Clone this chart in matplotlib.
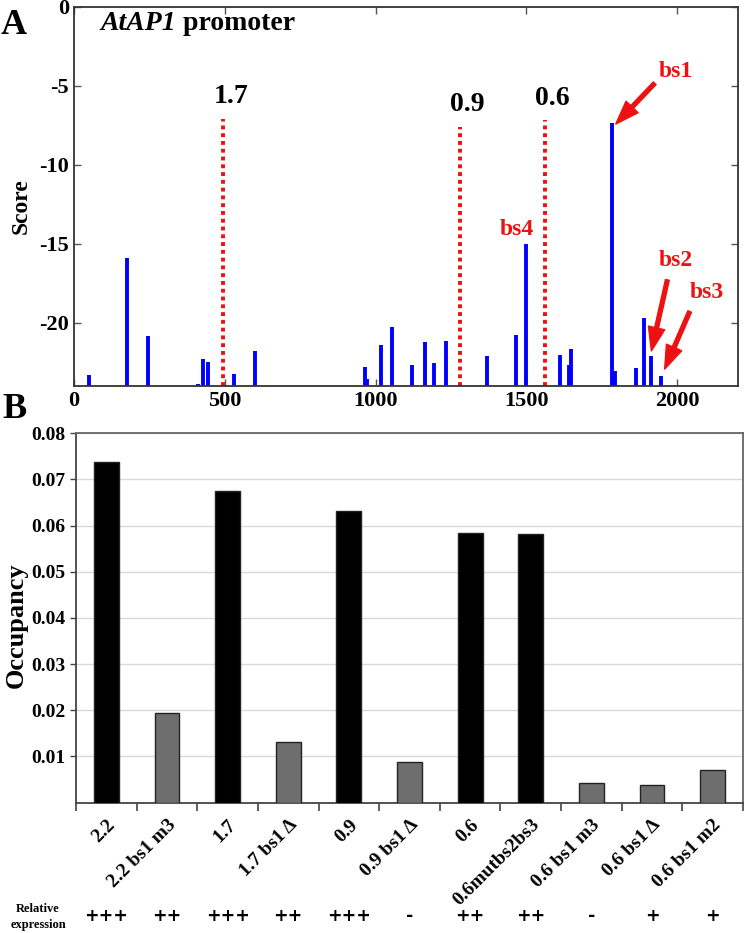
import matplotlib
matplotlib.use("Agg")
import matplotlib.pyplot as plt
import matplotlib.transforms as mtransforms
from matplotlib.ticker import FixedLocator, NullFormatter

plt.rcParams['font.family'] = ['Liberation Serif', 'DejaVu Serif']
plt.rcParams['font.weight'] = 'bold'
plt.rcParams['axes.unicode_minus'] = False

# ---------------- Data: panel A ----------------
site_positions = [52, 176, 247, 412, 430, 446, 531, 600, 965, 972, 1017, 1056,
                  1121, 1163, 1194, 1235, 1370, 1464, 1497, 1611, 1640, 1648,
                  1782, 1795, 1862, 1888, 1912, 1945]
site_scores = [-23.35, -15.9, -20.84, -23.9, -22.3, -22.5, -23.25, -21.8, -22.8,
               -23.6, -21.4, -20.3, -22.7, -21.26, -22.57, -21.18, -22.15,
               -20.76, -15.04, -22.07, -22.7, -21.7, -7.38, -23.06, -22.9,
               -19.7, -22.15, -23.4]
cut_positions = [495, 1280, 1560]
cut_tops = [-7.1, -7.6, -7.2]
cut_labels = ['1.7', '0.9', '0.6']
score_ticks = [0, -5, -10, -15, -20]
pos_ticks = [0, 500, 1000, 1500, 2000]

bs_names = ['bs1', 'bs2', 'bs3']
bs_heads = [(1796, -7.43), (1914, -21.8), (1958, -22.95)]
bs_tails = [(1925, -4.85), (1967, -17.3), (2041, -19.3)]
bs_text = [(1995, -4.1), (1995, -16.1), (2096, -18.1)]

# ---------------- Data: panel B ----------------
constructs = ['2.2', '2.2 bs1 m3', '1.7', '1.7 bs1 \u0394', '0.9', '0.9 bs1 \u0394',
              '0.6', '0.6mutbs2bs3', '0.6 bs1 m3', '0.6 bs1 \u0394', '0.6 bs1 m2']
occupancy = [0.0737, 0.0195, 0.0674, 0.0132, 0.0632, 0.0087,
             0.0584, 0.0582, 0.0042, 0.0039, 0.0070]
is_wild = [True, False, True, False, True, False, True, True, False, False, False]
expression = ['+++', '++', '+++', '++', '+++', '-', '++', '++', '-', '+', '+']
occ_ticks = [0.01, 0.02, 0.03, 0.04, 0.05, 0.06, 0.07, 0.08]

W, H = 750, 933
fig = plt.figure(figsize=(7.5, 9.33), dpi=100)

def fx(px):
    return px / W

def fy(py):
    return 1 - py / H

# ---------------- Panel A ----------------
axA = fig.add_axes([fx(73.7), fy(385.7), fx(737.7) - fx(73.7), fy(6.7) - fy(385.7)])
axA.set_xlim(0, 2200)
axA.set_ylim(-24, 0)
axA.vlines(site_positions, -24, site_scores, colors='#0000ff', linewidth=2.8)
axA.vlines(cut_positions, -24, cut_tops, colors='#ee1111', linestyles=(0, (1, 1)), linewidth=2.8)
for xp, yt, lab in zip(cut_positions, cut_tops, cut_labels):
    axA.text(xp + 25, yt + 0.6, lab, ha='center', va='bottom', fontsize=20, color='black')
axA.set_xticks(pos_ticks)
axA.set_yticks(score_ticks)
axA.tick_params(direction='in', top=True, right=True, labelsize=16, length=5, width=1,
                colors='#555555', labelcolor='black')
for sp in axA.spines.values():
    sp.set_linewidth(1.3)
    sp.set_color('#333333')

for name, head, tail, tpos in zip(bs_names, bs_heads, bs_tails, bs_text):
    axA.annotate('', xy=head, xytext=tail,
                 arrowprops=dict(facecolor='#ee1111', edgecolor='#ee1111', width=2.8,
                                 headwidth=12, headlength=17, shrink=0))
    axA.text(tpos[0], tpos[1], name, ha='center', va='center', fontsize=17, color='#ee1111')
axA.text(1469, -14.1, 'bs4', ha='center', va='center', fontsize=17, color='#ee1111')

t1 = axA.text((100 - 73.7) / (737.7 - 73.7), 0.955, 'AtAP1', transform=axA.transAxes,
              ha='left', va='center', fontsize=20, style='italic')
axA.annotate(' promoter', xy=(1, 0), xycoords=t1, ha='left', va='bottom', fontsize=20)

fig.text(fx(21), fy(206), 'Score', rotation=90, ha='center', va='center', fontsize=17)
fig.text(fx(14), fy(26), 'A', ha='center', va='center', fontsize=26)
fig.text(fx(14), fy(409), 'B', ha='center', va='center', fontsize=26)

# ---------------- Panel B ----------------
axB = fig.add_axes([fx(76), fy(802.5), fx(743) - fx(76), fy(433.3) - fy(802.5)])
xs = list(range(len(constructs)))
colors = ['black' if w else '#6e6e6e' for w in is_wild]
axB.bar(xs, occupancy, width=0.41, color=colors, edgecolor='#222222', linewidth=1, zorder=3)
axB.set_xlim(-0.5, len(constructs) - 0.5)
axB.set_ylim(0, 0.08)
axB.yaxis.set_major_locator(FixedLocator(occ_ticks))
axB.set_yticklabels([f'{v:.2f}' for v in occ_ticks])
axB.grid(axis='y', color='#d9d9d9', linewidth=1, zorder=0)
axB.set_xticks(xs)
axB.set_xticklabels(constructs, rotation=45, ha='right', rotation_mode='anchor', fontsize=14)
axB.xaxis.set_minor_locator(FixedLocator([i - 0.5 for i in range(len(constructs) + 1)]))
axB.xaxis.set_minor_formatter(NullFormatter())
axB.tick_params(axis='x', which='major', length=0, pad=10)
axB.tick_params(axis='x', which='minor', length=6, width=1.2, color='#444444', direction='out')
axB.tick_params(axis='y', which='major', length=4, width=1, color='#444444', direction='out',
                labelsize=14)
for side, sp in axB.spines.items():
    sp.set_linewidth(1.3)
    sp.set_color('#444444' if side in ('left', 'bottom') else '#666666')

fig.text(fx(16), fy(625), 'Occupancy', rotation=90, ha='center', va='center', fontsize=19)
fig.text(fx(38), fy(917), 'Relative\nexpression', ha='center', va='center', fontsize=9,
         linespacing=1.4)
trans = mtransforms.blended_transform_factory(axB.transData, fig.transFigure)
for x, s in zip(xs, expression):
    axB.text(x, fy(916), s, transform=trans, ha='center', va='center', fontsize=12.5,
             family=['DejaVu Sans'], fontweight='bold')

fig.savefig('out.png', dpi=100)
